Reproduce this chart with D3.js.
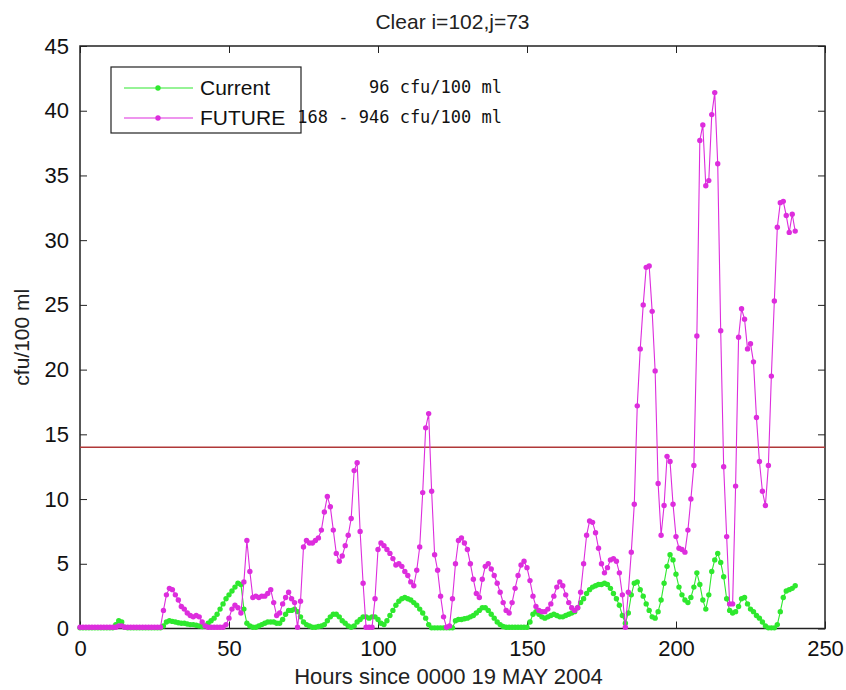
<!DOCTYPE html>
<html><head><meta charset="utf-8">
<script src="https://cdn.jsdelivr.net/npm/d3@7"></script>
<style>body{margin:0;background:#fff}</style>
</head><body><svg id="c" width="846" height="690"></svg>
<script>
// ---- data ----
const hours = d3.range(0, 241); // hourly, 0..240
const current = [
0.05,0.05,0.05,0.05,0.05,0.05,0.05,0.05,0.05,0.05, // 0-9
0.05,0.05,0.3,0.6,0.5,0.1,0.05,0.05,0.05,0.05,     // 10-19
0.05,0.05,0.05,0.05,0.05,0.05,0.05,0.05,0.2,0.5,   // 20-29
0.6,0.55,0.5,0.45,0.4,0.4,0.35,0.3,0.3,0.25,       // 30-39
0.2,0.15,0.2,0.4,0.6,0.8,1.1,1.5,1.9,2.3,          // 40-49
2.6,2.9,3.2,3.5,3.4,1.5,0.4,0.2,0.1,0.1,           // 50-59
0.2,0.3,0.4,0.5,0.5,0.5,0.4,0.4,0.7,1.1,           // 60-69
1.4,1.4,1.5,1.3,0.9,0.5,0.3,0.2,0.1,0.1,           // 70-79
0.15,0.2,0.3,0.6,0.9,1.1,1.1,0.9,0.6,0.4,          // 80-89
0.2,0.1,0.2,0.5,0.7,0.9,0.9,0.8,0.9,0.9,           // 90-99
0.7,0.4,0.3,0.6,1.0,1.4,1.8,2.1,2.3,2.4,           // 100-109
2.3,2.2,2.0,1.8,1.5,1.2,0.8,0.3,0.05,0.05,         // 110-119
0.05,0.05,0.05,0.05,0.05,0.05,0.6,0.7,0.7,0.75,    // 120-129
0.8,0.9,1.0,1.2,1.4,1.6,1.6,1.4,1.1,0.8,           // 130-139
0.5,0.3,0.15,0.1,0.1,0.1,0.1,0.1,0.1,0.1,          // 140-149
0.1,0.5,1.1,1.3,1.1,0.9,0.8,0.9,1.0,1.1,           // 150-159
1.0,0.9,0.9,1.0,1.1,1.2,1.3,1.6,2.0,2.3,           // 160-169
2.7,3.0,3.2,3.3,3.4,3.4,3.5,3.4,3.1,2.7,           // 170-179
2.3,1.8,1.0,0.4,1.2,2.6,3.5,3.6,3.0,2.5,           // 180-189
1.9,1.4,0.9,0.8,1.3,2.2,3.5,4.8,5.7,5.3,           // 190-199
4.2,3.2,2.6,2.2,2.0,2.4,3.2,4.3,3.4,2.2,           // 200-209
1.5,2.6,4.4,5.3,5.8,5.1,4.0,2.3,1.4,1.2,           // 210-219
1.3,1.7,2.3,2.4,1.9,1.5,1.3,1.0,0.8,0.5,           // 220-229
0.2,0.05,0.05,0.05,0.3,1.3,2.4,2.9,3.0,3.1,        // 230-239
3.3                                                // 240
];
const future = [
0.1,0.1,0.1,0.1,0.1,0.1,0.1,0.1,0.1,0.1,           // 0-9
0.1,0.1,0.1,0.2,0.2,0.1,0.1,0.1,0.1,0.1,           // 10-19
0.1,0.1,0.1,0.1,0.1,0.1,0.1,0.1,1.4,2.6,           // 20-29
3.1,3.0,2.6,2.2,1.7,1.5,1.2,1.0,0.9,1.0,           // 30-39
0.9,0.5,0.2,0.1,0.1,0.1,0.1,0.1,0.1,0.3,           // 40-49
0.8,1.5,1.8,1.6,1.2,3.6,6.8,4.4,2.4,2.5,           // 50-59
2.4,2.5,2.5,2.7,3.0,2.0,1.0,1.2,1.9,2.4,           // 60-69
2.8,2.3,2.0,0.1,2.1,6.3,6.8,6.6,6.6,6.8,           // 70-79
7.0,7.6,9.0,10.2,9.4,7.6,5.8,5.2,5.6,6.4,          // 80-89
7.2,8.5,12.2,12.8,7.5,3.5,0.1,0.1,0.1,2.3,         // 90-99
6.1,6.6,6.4,6.1,5.8,5.4,4.9,5.0,4.8,4.4,           // 100-109
4.1,3.6,3.3,4.5,6.3,10.5,15.5,16.6,10.6,5.7,       // 110-119
4.5,2.5,0.9,0.1,0.2,2.3,5.0,6.8,7.0,6.6,           // 120-129
6.1,5.0,3.8,2.7,2.4,3.8,4.8,5.0,4.6,4.1,           // 130-139
3.5,2.8,2.0,1.4,1.2,2.0,3.1,4.1,4.9,5.2,           // 140-149
4.7,3.7,2.5,1.7,1.4,1.3,1.3,1.5,1.9,2.5,           // 150-159
3.2,3.6,3.3,2.6,2.0,1.6,1.4,1.6,2.8,5.0,           // 160-169
7.2,8.3,8.2,7.4,6.2,5.0,4.3,4.7,5.3,5.4,           // 170-179
5.2,4.3,2.6,0.1,2.8,5.9,9.6,17.2,21.6,25.0,        // 180-189
27.9,28.0,24.5,19.9,11.2,7.2,9.5,13.3,12.9,9.6,    // 190-199
7.1,6.2,6.1,5.9,7.6,10.0,12.6,22.6,37.7,38.9,      // 200-209
34.2,34.6,39.7,41.4,35.9,23.0,12.5,7.1,1.9,1.9,    // 210-219
11.0,22.5,24.7,23.9,21.6,22.0,20.6,16.3,12.9,10.6, // 220-229
9.5,12.6,19.5,25.3,31.0,32.9,33.0,31.9,30.6,32.0,  // 230-239
30.7                                               // 240
];
const threshold = 14;
const xTicks = [0, 50, 100, 150, 200, 250];
const yTicks = [0, 5, 10, 15, 20, 25, 30, 35, 40, 45];
const seriesNames = ["Current", "FUTURE"];
const notes = ["96 cfu/100 ml", "168 - 946 cfu/100 ml"];
const titleText = "Clear i=102,j=73";
const xLabel = "Hours since 0000 19 MAY 2004";
const yLabel = "cfu/100 ml";

// ---- layout ----
const svg = d3.select("#c");
const L = 80, R = 825, T = 46, B = 628.5;
const x = d3.scaleLinear().domain([0, 250]).range([L, R]);
const y = d3.scaleLinear().domain([0, 45]).range([B, T]);
const FONT = "'Liberation Sans', Arial, sans-serif";
const green = "#2ee82e", magenta = "#dd2ddd", red = "#b03838";

// axes (inward ticks, MATLAB style)
const tl = 7;
svg.append("g").attr("transform", `translate(0,${B})`)
  .call(d3.axisBottom(x).tickValues(xTicks).tickSize(-tl).tickPadding(12).tickFormat(d3.format("d")))
  .call(g => { g.select(".domain").remove(); g.selectAll("line").attr("stroke","#222");
    g.selectAll("text").attr("font-family",FONT).attr("font-size",22).attr("fill","#111"); });
svg.append("g").attr("transform", `translate(0,${T})`)
  .call(d3.axisTop(x).tickValues(xTicks).tickSize(-tl).tickFormat(""))
  .call(g => { g.select(".domain").remove(); g.selectAll("line").attr("stroke","#222"); });
svg.append("g").attr("transform", `translate(${L},0)`)
  .call(d3.axisLeft(y).tickValues(yTicks).tickSize(-tl).tickPadding(11).tickFormat(d3.format("d")))
  .call(g => { g.select(".domain").remove(); g.selectAll("line").attr("stroke","#222");
    g.selectAll("text").attr("font-family",FONT).attr("font-size",22).attr("fill","#111"); });
svg.append("g").attr("transform", `translate(${R},0)`)
  .call(d3.axisRight(y).tickValues(yTicks).tickSize(-tl).tickFormat(""))
  .call(g => { g.select(".domain").remove(); g.selectAll("line").attr("stroke","#222"); });
svg.append("rect").attr("x", L).attr("y", T).attr("width", R - L).attr("height", B - T)
  .attr("fill", "none").attr("stroke", "#222").attr("stroke-width", 1.5);

// threshold line
svg.append("line").attr("x1", L).attr("x2", R).attr("y1", y(threshold)).attr("y2", y(threshold))
  .attr("stroke", red).attr("stroke-width", 1.6);

// series
const line = d3.line().x((d, i) => x(hours[i])).y(d => y(d));
function drawSeries(vals, color) {
  svg.append("path").datum(vals).attr("d", line).attr("fill", "none")
    .attr("stroke", color).attr("stroke-width", 1.1);
  svg.append("g").selectAll("circle").data(vals).join("circle")
    .attr("cx", (d, i) => x(hours[i])).attr("cy", d => y(d)).attr("r", 2.7).attr("fill", color);
}
drawSeries(current, green);
drawSeries(future, magenta);

// title & labels
svg.append("text").attr("x", (L + R) / 2).attr("y", 29).attr("text-anchor", "middle")
  .attr("font-family", FONT).attr("font-size", 21).attr("fill", "#222").text(titleText);
svg.append("text").attr("x", (L + R) / 2 - 4).attr("y", 684).attr("text-anchor", "middle")
  .attr("font-family", FONT).attr("font-size", 22).attr("fill", "#222").text(xLabel);
svg.append("text").attr("transform", `translate(29,${(T + B) / 2}) rotate(-90)`).attr("text-anchor", "middle")
  .attr("font-family", FONT).attr("font-size", 21).attr("fill", "#222").text(yLabel);

// legend
const lg = svg.append("g");
lg.append("rect").attr("x", 111).attr("y", 67).attr("width", 190).attr("height", 66)
  .attr("fill", "#fff").attr("stroke", "#222").attr("stroke-width", 1.2);
[green, magenta].forEach((c, i) => {
  const yy = 88 + i * 30;
  lg.append("line").attr("x1", 124).attr("x2", 193).attr("y1", yy).attr("y2", yy).attr("stroke", c).attr("stroke-width", 1.2);
  lg.append("circle").attr("cx", 158).attr("cy", yy).attr("r", 2.7).attr("fill", c);
  lg.append("text").attr("x", 200).attr("y", yy + 7).attr("font-family", FONT).attr("font-size", 21)
    .attr("fill", "#111").text(seriesNames[i]);
});
// notes
notes.forEach((t, i) => {
  svg.append("text").attr("x", 502).attr("y", 93 + i * 30).attr("text-anchor", "end")
    .attr("font-family", "'DejaVu Sans Mono', monospace").attr("font-size", 17).attr("fill", "#111").text(t);
});
</script></body></html>
